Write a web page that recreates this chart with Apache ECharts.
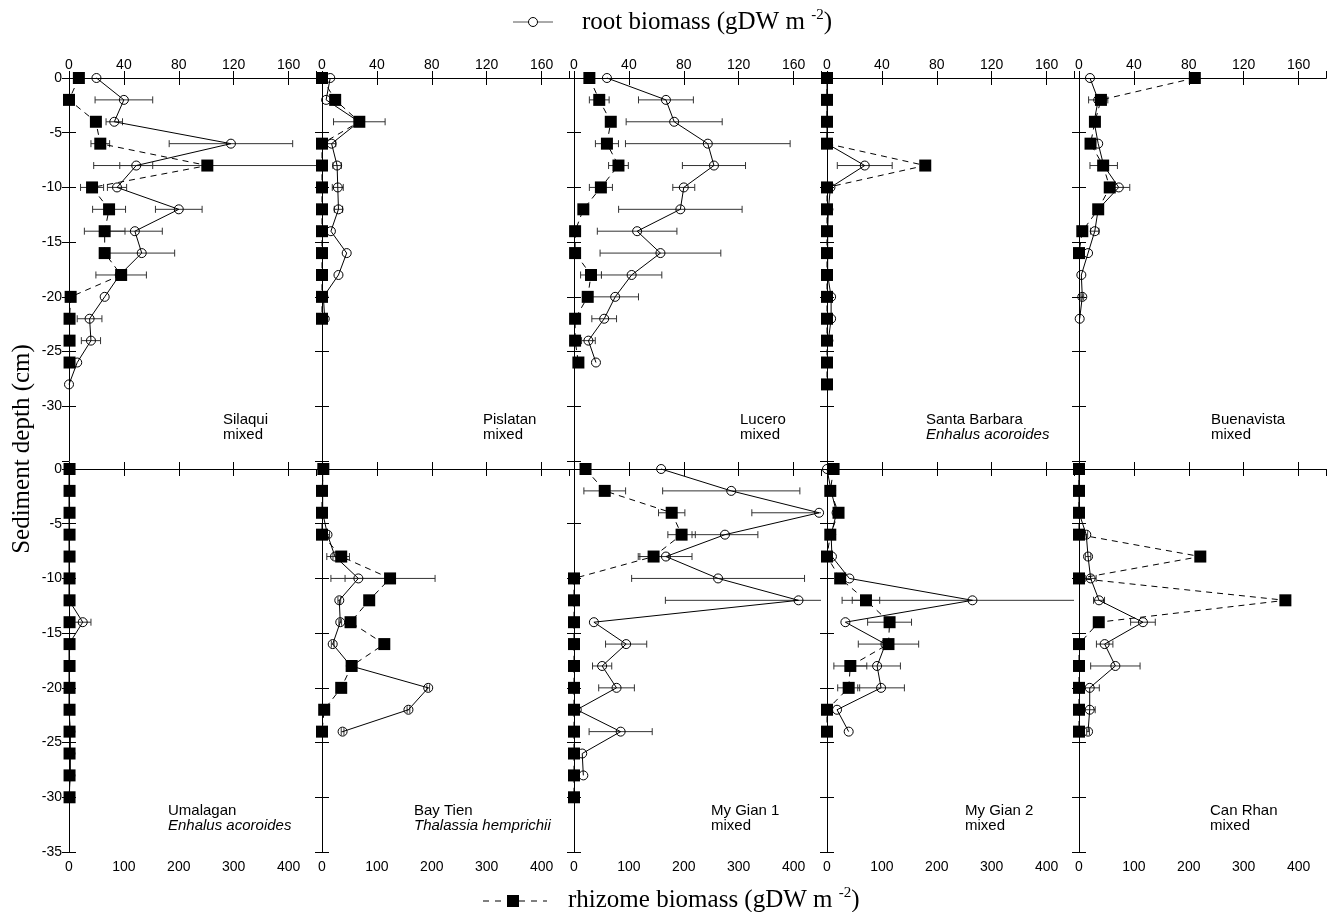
<!DOCTYPE html>
<html><head><meta charset="utf-8">
<script src="https://cdn.jsdelivr.net/npm/echarts@6/dist/echarts.min.js"></script>
<style>html,body{margin:0;padding:0;background:#fff}#c{width:1331px;height:912px}</style>
</head><body><div id="c"></div>
<script>
// ---------- DATA ----------
const depth = [0,-2,-4,-6,-8,-10,-12,-14,-16,-18,-20,-22,-24,-26,-28,-30];
const siteNames = ['Silaqui','Pislatan','Lucero','Santa Barbara','Buenavista','Umalagan','Bay Tien','My Gian 1','My Gian 2','Can Rhan'];
const siteTypes = ['mixed','mixed','mixed','Enhalus acoroides','mixed','Enhalus acoroides','Thalassia hemprichii','mixed','mixed','mixed'];
const rootTickLabels = [0,40,80,120,160];
const rhizomeTickLabels = [0,100,200,300,400];
const depthTickLabels = [0,-5,-10,-15,-20,-25,-30,-35];

const rootSilaqui    = [20,40,33,118,49,35,80,48,53,37,26,15,16,6,0];
const rootErrSilaqui = [0,21,6,45,12,7,17,20,24,0,0,9,7,0,0];
const rhizSilaqui    = [18,0,49,57,252,42,73,65,65,95,3,1,1,1];
const rhizErrSilaqui = [0,0,0,17,207,21,30,37,0,46,0,0,0,0];

const rootPislatan    = [6,3,27,7,11,11.5,12,6.5,18,12,1,2];
const rootErrPislatan = [0,0,0,3,3,4,3,0,0,0,0,0];
const rhizPislatan    = [0,24,68,0,0,0,0,0,0,0,0,0];
const rhizErrPislatan = [0,0,47,0,0,0,0,0,0,0,0,0];

const rootLucero    = [24,67,73,97.5,102,80,77.5,46,63,42,30,22,10.5,16];
const rootErrLucero = [0,20,35,60,23,8,45,29,44,22,17,9,5,0];
const rhizLucero    = [28,46,67,60,81,49,17,2,2,31,25,2,2,8];
const rhizErrLucero = [6,18,8,21,18,21,0,0,0,19,0,0,0,0];

const rootSantaBarbara    = [0,0,0,0,27.5,2.5,1,0.5,0.5,0.5,3,3,1];
const rootErrSantaBarbara = [0,0,0,0,20,0,0,0,0,0,0,0,0];
const rhizSantaBarbara    = [0,0,0,0,179,0,0,0,0,0,0,0,0,0,0];
const rhizErrSantaBarbara = [0,0,0,0,0,0,0,0,0,0,0,0,0,0,0];

const rootBuenavista    = [8,14,11,14,18,29,14,11.5,6.6,1.7,2.4,0.5];
const rootErrBuenavista = [0,7,0,0,10,8,0,3,0,0,1,0];
const rhizBuenavista    = [211,40,29,21,44,56,35,6,0];
const rhizErrBuenavista = [0,0,0,0,0,0,0,0,0];

const rootUmalagan    = [0,0,0,0,0,0,0,10,0,0,0,0,1,1,1,0];
const rootErrUmalagan = [0,0,0,0,0,0,0,6,0,0,0,0,0,0,0,0];
const rhizUmalagan    = [1,1,1,1,1,1,1,1,1,1,1,1,1,1,1,1];
const rhizErrUmalagan = [0,0,0,0,0,0,0,0,0,0,0,0,0,0,0,0];

const rootBayTien    = [0.5,0.5,0.5,4,9.5,26.5,12.6,13.3,7.8,21,77.4,63,15];
const rootErrBayTien = [0,0,0,1.5,6,20,1,1,1,0,1,1,1];
const rhizBayTien    = [2.4,0,0,0,35,124,86,52,113.5,54,35,4,0];
const rhizErrBayTien = [0,0,0,0,15,82,0,0,0,0,0,0,0];

const rootMyGian1    = [63.5,114.6,178.6,110,67,105,163.6,14.5,38,20.5,31,2,34,6,6.8];
const rootErrMyGian1 = [0,50,49,24,19,63,97,0,15,7,13,0,23,0,0];
const rhizMyGian1    = [21,56,178,196,145,0,0,0,0,0,0,0,0,0,0,0];
const rhizErrMyGian1 = [0,38,24,25,28,0,0,0,0,0,0,0,0,0,0,0];

const rootMyGian2    = [0,3,7,3,3.6,16.3,106,13.4,42.6,36.5,39.4,7.3,15.8];
const rootErrMyGian2 = [0,0,0,0,0,0,95,0,0,17,17,0,0];
const rhizMyGian2    = [12,6,21,6,0,24,71,114,112,42.5,39.5,0,0];
const rhizErrMyGian2 = [0,0,0,0,0,0,25,40,55,30,20,0,0];

const rootCanRhan    = [0,0,0,5.3,6.6,8.5,14.6,46.6,18.7,26.5,7.8,7.8,6.6];
const rootErrCanRhan = [0,0,0,1,2,4,4,9,6,18,7,4,1];
const rhizCanRhan    = [0,0,0,0,221,0,376,36,0,0,0,0,0];
const rhizErrCanRhan = [0,0,0,0,0,0,0,0,0,0,0,0,0];

const rootSets    = [rootSilaqui,rootPislatan,rootLucero,rootSantaBarbara,rootBuenavista,rootUmalagan,rootBayTien,rootMyGian1,rootMyGian2,rootCanRhan];
const rootErrSets = [rootErrSilaqui,rootErrPislatan,rootErrLucero,rootErrSantaBarbara,rootErrBuenavista,rootErrUmalagan,rootErrBayTien,rootErrMyGian1,rootErrMyGian2,rootErrCanRhan];
const rhizSets    = [rhizSilaqui,rhizPislatan,rhizLucero,rhizSantaBarbara,rhizBuenavista,rhizUmalagan,rhizBayTien,rhizMyGian1,rhizMyGian2,rhizCanRhan];
const rhizErrSets = [rhizErrSilaqui,rhizErrPislatan,rhizErrLucero,rhizErrSantaBarbara,rhizErrBuenavista,rhizErrUmalagan,rhizErrBayTien,rhizErrMyGian1,rhizErrMyGian2,rhizErrCanRhan];

// ---------- LAYOUT ----------
const gridLefts = [69, 322, 574, 827, 1079];
const gridWidth = 247;
const gridTops = [78, 469];
const gridHeight = 383;
const labelOffsets = [154,161,166,99,132, 99,92,137,138,131];
const axisFont = 'Liberation Sans, Arial, sans-serif';
const serif = 'Liberation Serif, Times New Roman, serif';

const grids = [], xAxes = [], yAxes = [], series = [], graphics = [];

function errRender(params, api) {
  const v = api.value(0), d = api.value(1), e = api.value(2);
  const p1 = api.coord([v - e, d]), p2 = api.coord([v + e, d]);
  const cs = params.coordSys;
  const xmin = cs.x, xmax = cs.x + cs.width;
  const y = p1[1];
  const st = {stroke: '#333', lineWidth: 1};
  const ch = [{type: 'line', shape: {x1: Math.max(p1[0], xmin), y1: y, x2: Math.min(p2[0], xmax), y2: y}, style: st}];
  if (p1[0] >= xmin) ch.push({type: 'line', shape: {x1: p1[0], y1: y - 3.5, x2: p1[0], y2: y + 3.5}, style: st});
  if (p2[0] <= xmax) ch.push({type: 'line', shape: {x1: p2[0], y1: y - 3.5, x2: p2[0], y2: y + 3.5}, style: st});
  return {type: 'group', children: ch};
}

for (let i = 0; i < 10; i++) {
  const r = i < 5 ? 0 : 1, c = i % 5;
  grids.push({left: gridLefts[c], top: gridTops[r], width: gridWidth, height: gridHeight});
  const axLine = {show: true, lineStyle: {color: '#000', width: 1}};
  const tick = {show: true, inside: true, length: 7, lineStyle: {color: '#000'}};
  xAxes.push({gridIndex: i, type: 'value', position: 'top', min: 0, max: 180, interval: 40,
    axisLine: axLine, axisTick: tick, splitLine: {show: false},
    axisLabel: {show: r === 0, showMaxLabel: false, margin: 6, fontSize: 14, color: '#000', fontFamily: axisFont}});
  xAxes.push({gridIndex: i, type: 'value', position: 'bottom', min: 0, max: 450, interval: 100,
    axisLine: axLine, axisTick: tick, splitLine: {show: false},
    axisLabel: {show: r === 1, showMaxLabel: false, margin: 8, fontSize: 14, color: '#000', fontFamily: axisFont}});
  yAxes.push({gridIndex: i, type: 'value', position: 'left', min: -35, max: 0, interval: 5,
    axisLine: axLine, axisTick: tick, splitLine: {show: false},
    axisLabel: {show: c === 0, showMinLabel: r === 1, margin: 7, fontSize: 14, color: '#000', fontFamily: axisFont}});
  yAxes.push({gridIndex: i, type: 'value', position: 'right', min: -35, max: 0, interval: 5,
    axisLine: axLine, axisTick: tick, splitLine: {show: false}, axisLabel: {show: false}});

  const root = rootSets[i], rootE = rootErrSets[i], rh = rhizSets[i], rhE = rhizErrSets[i];
  const rootData = [], rootErrData = [], rhData = [], rhErrData = [];
  root.forEach((v, k) => { if (v != null) { rootData.push([v, depth[k]]); if (rootE[k] > 0) rootErrData.push([v, depth[k], rootE[k]]); } });
  rh.forEach((v, k) => { if (v != null) { rhData.push([v, depth[k]]); if (rhE[k] > 0) rhErrData.push([v, depth[k], rhE[k]]); } });

  series.push({type: 'custom', xAxisIndex: 2*i, yAxisIndex: 2*i, renderItem: errRender, data: rootErrData,
    encode: {x: 0, y: 1}, z: 1, silent: true});
  series.push({type: 'custom', xAxisIndex: 2*i+1, yAxisIndex: 2*i, renderItem: errRender, data: rhErrData,
    encode: {x: 0, y: 1}, z: 1, silent: true});
  series.push({type: 'line', xAxisIndex: 2*i, yAxisIndex: 2*i, data: rootData, clip: false, z: 2,
    symbol: 'circle', symbolSize: 9, showAllSymbol: true,
    itemStyle: {color: 'rgba(255,255,255,0)', borderColor: '#000', borderWidth: 1},
    lineStyle: {color: '#000', width: 1}});
  series.push({type: 'line', xAxisIndex: 2*i+1, yAxisIndex: 2*i, data: rhData, clip: false, z: 3,
    symbol: 'rect', symbolSize: 12, showAllSymbol: true,
    itemStyle: {color: '#000'},
    lineStyle: {color: '#000', width: 1, type: [6, 5]}});

  const italic = siteTypes[i] !== 'mixed';
  graphics.push({type: 'text', left: gridLefts[c] + labelOffsets[i], top: gridTops[r] + 334,
    style: {text: siteNames[i], font: '15px ' + axisFont, fill: '#000'}});
  graphics.push({type: 'text', left: gridLefts[c] + labelOffsets[i], top: gridTops[r] + 349,
    style: {text: siteTypes[i], font: (italic ? 'italic ' : '') + '15px ' + axisFont, fill: '#000'}});
}

// Legends and y title
graphics.push({type: 'line', shape: {x1: 513, y1: 22, x2: 553, y2: 22}, style: {stroke: '#555', lineWidth: 1}});
graphics.push({type: 'circle', shape: {cx: 533, cy: 22, r: 4.5}, style: {fill: '#fff', stroke: '#000', lineWidth: 1}});
graphics.push({type: 'text', left: 582, top: 8, style: {
  text: '{a|root biomass (gDW m }{s|-2}{a|)}',
  rich: {a: {fontSize: 25, fontFamily: serif, lineHeight: 28, fill: '#000'},
         s: {fontSize: 15, fontFamily: serif, verticalAlign: 'top', lineHeight: 15, fill: '#000'}}}});
graphics.push({type: 'line', shape: {x1: 483, y1: 901, x2: 547, y2: 901}, style: {stroke: '#000', lineWidth: 1, lineDash: [6, 6]}});
graphics.push({type: 'rect', shape: {x: 507, y: 895, width: 12, height: 12}, style: {fill: '#000'}});
graphics.push({type: 'text', left: 568, top: 886, style: {
  text: '{a|rhizome biomass (gDW m }{s|-2}{a|)}',
  rich: {a: {fontSize: 25, fontFamily: serif, lineHeight: 28, fill: '#000'},
         s: {fontSize: 15, fontFamily: serif, verticalAlign: 'top', lineHeight: 15, fill: '#000'}}}});
graphics.push({type: 'text', x: 22, y: 449, rotation: Math.PI / 2, style: {
  text: 'Sediment depth (cm)', font: '25px ' + serif, fill: '#000', align: 'center', verticalAlign: 'middle'}});

const chart = echarts.init(document.getElementById('c'), null, {renderer: 'canvas'});
chart.setOption({animation: false, backgroundColor: '#fff', grid: grids, xAxis: xAxes, yAxis: yAxes, series: series, graphic: graphics});
</script></body></html>
